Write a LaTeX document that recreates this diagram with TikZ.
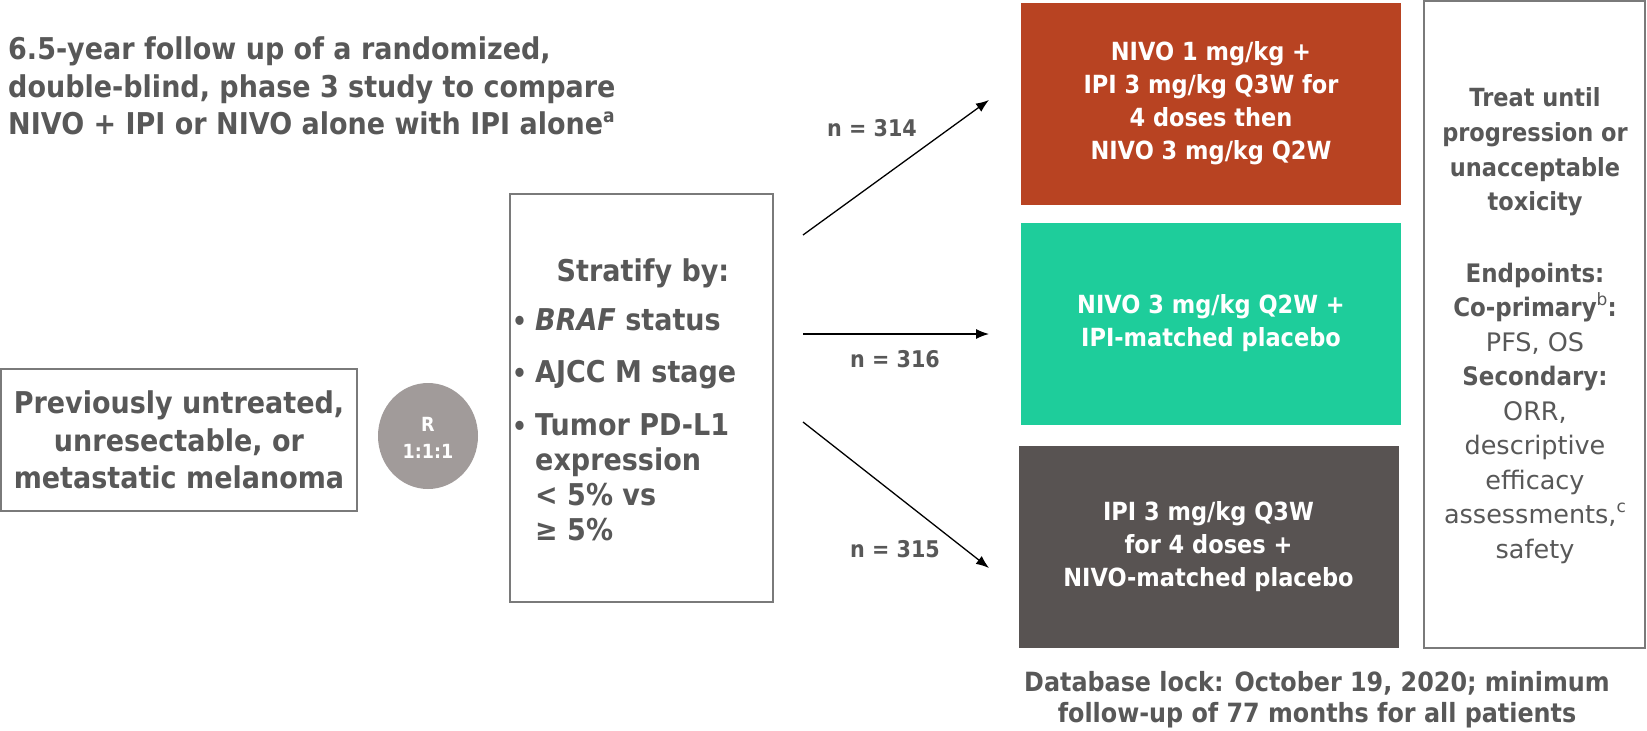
\documentclass[tikz,border=0pt]{standalone}
\usepackage{fontspec}
\setmainfont{DejaVu Sans}[BoldFeatures={FakeStretch=0.9},BoldItalicFeatures={FakeStretch=0.9}]
\usetikzlibrary{arrows.meta,shapes.geometric}
\definecolor{txtgray}{HTML}{585858}
\definecolor{framegray}{HTML}{7A7A7A}
\definecolor{armorange}{HTML}{B84322}
\definecolor{armteal}{HTML}{1ECD9B}
\definecolor{armdark}{HTML}{585352}
\definecolor{circgray}{HTML}{A19B9A}
\newcommand\mysup[2][17]{\raisebox{0.42em}{\fontsize{#1}{#1}\selectfont #2}}
\begin{document}
\begin{tikzpicture}[x=1pt,y=-1pt,
  frame/.style={draw=framegray,line width=1.4pt,inner sep=0pt},
  bigtxt/.style={font=\fontsize{30}{37.5}\selectfont\bfseries,text=txtgray,inner sep=0pt},
  bultxt/.style={font=\fontsize{26}{26}\selectfont\bfseries,text=txtgray,inner sep=0pt},
  armbox/.style={minimum width=380pt,minimum height=202pt,inner sep=0pt,
    font=\fontsize{25}{33}\selectfont\bfseries,text=white,align=center},
  sidebold/.style={font=\fontsize{25}{34.7}\selectfont\bfseries,text=txtgray,align=center,inner sep=0pt},
  sidetxt/.style={font=\fontsize{25.5}{34.5}\selectfont,text=txtgray,align=center,inner sep=0pt},
  ntxt/.style={font=\fontsize{23}{23}\selectfont\bfseries,text=txtgray,inner sep=0pt},
  arr/.style={-{Latex[length=13pt,width=10pt]},line width=1.3pt,black}]
\useasboundingbox (0,0) rectangle (1647,731);
\fill[white] (0,0) rectangle (1647,731);

% title
\node[bigtxt,align=left,anchor=west] (title) at (8,86)
  {6.5-year follow up of a randomized,\\double-blind, phase 3 study to compare\\NIVO + IPI or NIVO alone with IPI alone\mysup[19]{a}};

% patients
\node[frame,minimum width=356pt,minimum height=142pt,bigtxt,align=center] (pat) at (179,440)
  {Previously untreated,\\unresectable, or\\metastatic melanoma};

% randomisation circle
\node[ellipse,fill=circgray,minimum width=100pt,minimum height=106pt,inner sep=0pt] (rnd) at (428,436) {};
\node[font=\fontsize{19.5}{27}\selectfont\bfseries,text=white,align=center,inner sep=0pt] (rtxt) at (428,438) {R\\1:1:1};

% stratify box
\node[frame,minimum width=263pt,minimum height=408pt] (strat) at (641.5,398) {};
\node[bigtxt,anchor=base] (sttl) at (643,281) {Stratify by:};
\node[bultxt,anchor=base west] (bu1) at (512,330) {\textbullet};
\node[bigtxt,anchor=base west] (st1) at (535,330) {\textit{BRAF} status};
\node[bultxt,anchor=base west] (bu2) at (512,382) {\textbullet};
\node[bigtxt,anchor=base west] (st2) at (535,382) {AJCC M stage};
\node[bultxt,anchor=base west] (bu3) at (512,435) {\textbullet};
\node[bigtxt,anchor=base west] (st3) at (535,435) {Tumor PD-L1};
\node[bigtxt,anchor=base west] (st4) at (535,470) {expression};
\node[bigtxt,anchor=base west] (st5) at (535,505) {< 5\% vs};
\node[bigtxt,anchor=base west] (st6) at (535,540) {≥ 5\%};

% arms
\node[armbox,fill=armorange] (arm1) at (1211,103.5)
  {NIVO 1 mg/kg +\\IPI 3 mg/kg Q3W for\\4 doses then\\NIVO 3 mg/kg Q2W};
\node[armbox,fill=armteal] (arm2) at (1211,323.5)
  {NIVO 3 mg/kg Q2W +\\IPI-matched placebo};
\node[armbox,fill=armdark] (arm3) at (1208.5,547)
  {IPI 3 mg/kg Q3W\\for 4 doses +\\NIVO-matched placebo};

% arrows
\coordinate (a1s) at (803,235);
\coordinate (a1e) at (989,100);
\coordinate (a2s) at (803,334);
\coordinate (a2e) at (989,334);
\coordinate (a3s) at (803,422);
\coordinate (a3e) at (989,568);
\draw[arr] (a1s) -- (a1e);
\draw[arr] (a2s) -- (a2e);
\draw[arr] (a3s) -- (a3e);
\node[ntxt] (n1) at (872,128) {n = 314};
\node[ntxt] (n2) at (895,359) {n = 316};
\node[ntxt] (n3) at (895,549) {n = 315};

% side box
\node[frame,minimum width=221pt,minimum height=647pt] (side) at (1534.5,324.5) {};
\node[sidebold] (treat) at (1535,152) {Treat until\\progression or\\unacceptable\\toxicity};
\node[sidetxt] (endp) at (1535,413)
  {\textbf{Endpoints:}\\\textbf{Co-primary}\mysup{b}\textbf{:}\\PFS, OS\\\textbf{Secondary:}\\ORR,\\descriptive\\efficacy\\assessments,\mysup{c}\\safety};

% database lock
\node[font=\fontsize{26.5}{31}\selectfont\bfseries,text=txtgray,align=center,inner sep=0pt] (dblock) at (1317,700)
  {Database lock: October 19, 2020; minimum\\follow-up of 77 months for all patients};
\end{tikzpicture}
\end{document}
